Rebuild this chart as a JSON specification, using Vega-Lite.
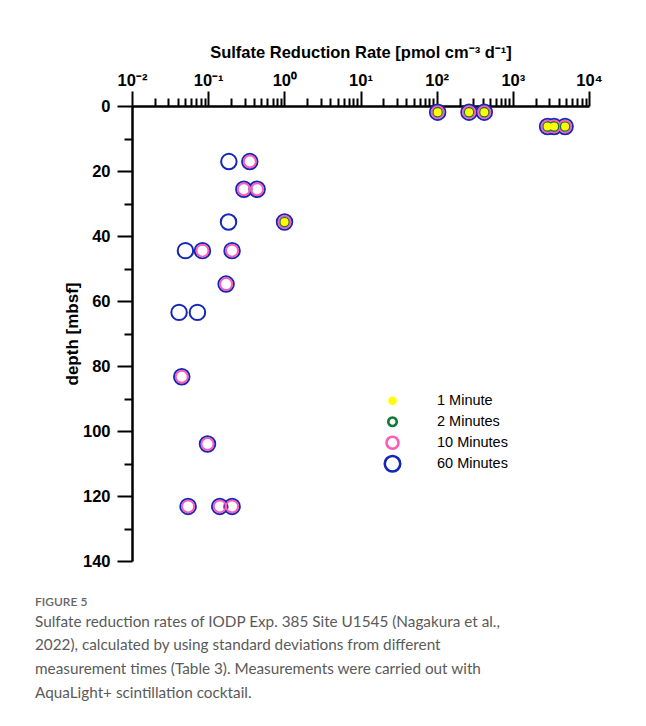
{
  "$schema": "https://vega.github.io/schema/vega-lite/v6.json",
  "width": 457,
  "height": 455,
  "autosize": {"type": "none"},
  "padding": {"left": 132, "top": 106, "right": 57, "bottom": 165},
  "background": "white",
  "config": {"view": {"stroke": null}},
  "title": {
    "text": "FIGURE 5",
    "subtitle": [
      "Sulfate reduction rates of IODP Exp. 385 Site U1545 (Nagakura et al.,",
      "2022), calculated by using standard deviations from different",
      "measurement times (Table 3). Measurements were carried out with",
      "AquaLight+ scintillation cocktail."
    ],
    "orient": "bottom",
    "anchor": "start",
    "frame": "group",
    "dx": -97,
    "offset": 27,
    "font": "Lato",
    "fontSize": 12,
    "fontWeight": 600,
    "color": "#666666",
    "subtitleFont": "Lato",
    "subtitleFontSize": 15.3,
    "subtitleColor": "#5a5a5a",
    "subtitleLineHeight": 23.7,
    "subtitlePadding": 6
  },
  "data": {
    "values": [
      {"time": "60 Minutes", "depth": 1.9, "rate": 103},
      {"time": "60 Minutes", "depth": 1.9, "rate": 266},
      {"time": "60 Minutes", "depth": 1.9, "rate": 422},
      {"time": "60 Minutes", "depth": 6.3, "rate": 2858},
      {"time": "60 Minutes", "depth": 6.3, "rate": 3477},
      {"time": "60 Minutes", "depth": 6.3, "rate": 4853},
      {"time": "60 Minutes", "depth": 17.1, "rate": 0.187},
      {"time": "60 Minutes", "depth": 17.1, "rate": 0.352},
      {"time": "60 Minutes", "depth": 25.6, "rate": 0.294},
      {"time": "60 Minutes", "depth": 25.6, "rate": 0.439},
      {"time": "60 Minutes", "depth": 35.7, "rate": 0.185},
      {"time": "60 Minutes", "depth": 35.7, "rate": 1.006},
      {"time": "60 Minutes", "depth": 44.5, "rate": 0.0503},
      {"time": "60 Minutes", "depth": 44.5, "rate": 0.0841},
      {"time": "60 Minutes", "depth": 44.5, "rate": 0.206},
      {"time": "60 Minutes", "depth": 54.8, "rate": 0.172},
      {"time": "60 Minutes", "depth": 63.5, "rate": 0.0415},
      {"time": "60 Minutes", "depth": 63.5, "rate": 0.0723},
      {"time": "60 Minutes", "depth": 83.3, "rate": 0.045},
      {"time": "60 Minutes", "depth": 104, "rate": 0.098},
      {"time": "60 Minutes", "depth": 123.2, "rate": 0.0545},
      {"time": "60 Minutes", "depth": 123.2, "rate": 0.142},
      {"time": "60 Minutes", "depth": 123.2, "rate": 0.206},
      {"time": "10 Minutes", "depth": 1.9, "rate": 103},
      {"time": "10 Minutes", "depth": 1.9, "rate": 266},
      {"time": "10 Minutes", "depth": 1.9, "rate": 422},
      {"time": "10 Minutes", "depth": 6.3, "rate": 2858},
      {"time": "10 Minutes", "depth": 6.3, "rate": 3477},
      {"time": "10 Minutes", "depth": 6.3, "rate": 4853},
      {"time": "10 Minutes", "depth": 17.1, "rate": 0.352},
      {"time": "10 Minutes", "depth": 25.6, "rate": 0.294},
      {"time": "10 Minutes", "depth": 25.6, "rate": 0.439},
      {"time": "10 Minutes", "depth": 35.7, "rate": 1.006},
      {"time": "10 Minutes", "depth": 44.5, "rate": 0.0841},
      {"time": "10 Minutes", "depth": 44.5, "rate": 0.206},
      {"time": "10 Minutes", "depth": 54.8, "rate": 0.172},
      {"time": "10 Minutes", "depth": 83.3, "rate": 0.045},
      {"time": "10 Minutes", "depth": 104, "rate": 0.098},
      {"time": "10 Minutes", "depth": 123.2, "rate": 0.0545},
      {"time": "10 Minutes", "depth": 123.2, "rate": 0.142},
      {"time": "10 Minutes", "depth": 123.2, "rate": 0.206},
      {"time": "2 Minutes", "depth": 1.9, "rate": 103},
      {"time": "2 Minutes", "depth": 1.9, "rate": 266},
      {"time": "2 Minutes", "depth": 1.9, "rate": 422},
      {"time": "2 Minutes", "depth": 6.3, "rate": 2858},
      {"time": "2 Minutes", "depth": 6.3, "rate": 3477},
      {"time": "2 Minutes", "depth": 6.3, "rate": 4853},
      {"time": "2 Minutes", "depth": 35.7, "rate": 1.006},
      {"time": "1 Minute", "depth": 1.9, "rate": 103},
      {"time": "1 Minute", "depth": 1.9, "rate": 266},
      {"time": "1 Minute", "depth": 1.9, "rate": 422},
      {"time": "1 Minute", "depth": 6.3, "rate": 2858},
      {"time": "1 Minute", "depth": 6.3, "rate": 3477},
      {"time": "1 Minute", "depth": 6.3, "rate": 4853},
      {"time": "1 Minute", "depth": 35.7, "rate": 1.006}
    ]
  },
  "mark": {"type": "point", "shape": "circle", "strokeWidth": 2, "opacity": 1},
  "encoding": {
    "x": {
      "field": "rate",
      "type": "quantitative",
      "scale": {"type": "log", "domain": [0.01, 10000], "nice": false},
      "axis": {
        "orient": "top",
        "title": "Sulfate Reduction Rate [pmol cm⁻³ d⁻¹]",
        "titleFont": "Liberation Sans",
        "titleFontSize": 16.5,
        "titleFontWeight": "bold",
        "titleColor": "black",
        "titlePadding": 12,
        "values": [0.01,0.02,0.03,0.04,0.05,0.06,0.07,0.08,0.09,0.1,0.2,0.3,0.4,0.5,0.6,0.7,0.8,0.9,1,2,3,4,5,6,7,8,9,10,20,30,40,50,60,70,80,90,100,200,300,400,500,600,700,800,900,1000,2000,3000,4000,5000,6000,7000,8000,9000,10000],
        "labelExpr": "datum.value == 0.01 ? '10⁻²' : datum.value == 0.1 ? '10⁻¹' : datum.value == 1 ? '10⁰' : datum.value == 10 ? '10¹' : datum.value == 100 ? '10²' : datum.value == 1000 ? '10³' : datum.value == 10000 ? '10⁴' : ''",
        "labelFont": "Liberation Sans",
        "labelFontSize": 16.5,
        "labelFontWeight": "bold",
        "labelColor": "black",
        "labelOverlap": false,
        "labelFlush": false,
        "labelPadding": 3,
        "labelBound": false,
        "grid": false,
        "domainColor": "black",
        "domainWidth": 2.5,
        "tickColor": "black",
        "tickWidth": 2,
        "tickSize": {"condition": {"test": "indexof([0.01,0.1,1,10,100,1000,10000], datum.value) >= 0", "value": 15}, "value": 8}
      }
    },
    "y": {
      "field": "depth",
      "type": "quantitative",
      "scale": {"domain": [0, 140], "reverse": true, "nice": false},
      "axis": {
        "title": "depth [mbsf]",
        "titleFont": "Liberation Sans",
        "titleFontSize": 17,
        "titleFontWeight": "bold",
        "titleColor": "black",
        "titlePadding": 1,
        "values": [0,10,20,30,40,50,60,70,80,90,100,110,120,130,140],
        "labelExpr": "datum.value % 20 == 0 ? datum.label : ''",
        "labelFont": "Liberation Sans",
        "labelFontSize": 16.5,
        "labelFontWeight": "bold",
        "labelColor": "black",
        "labelOverlap": false,
        "labelFlush": false,
        "labelPadding": 7,
        "grid": false,
        "domainColor": "black",
        "domainWidth": 2.5,
        "tickColor": "black",
        "tickWidth": 2,
        "tickSize": {"condition": {"test": "datum.value % 20 == 0", "value": 15}, "value": 8}
      }
    },
    "stroke": {
      "field": "time",
      "type": "nominal",
      "scale": {
        "domain": ["1 Minute", "2 Minutes", "10 Minutes", "60 Minutes"],
        "range": ["#ffff00", "#0f7a36", "#ff5cb8", "#1428b4"]
      },
      "legend": {
        "title": null,
        "orient": "none",
        "legendX": 251,
        "legendY": 284.5,
        "padding": 0,
        "labelFont": "Liberation Sans",
        "labelFontSize": 14.5,
        "labelColor": "black",
        "labelOffset": 35,
        "rowPadding": 0,
        "clipHeight": 20.5,
        "symbolStrokeWidth": 2.6,
        "encode": {
          "symbols": {
            "update": {
              "size": {"signal": "datum.value === '1 Minute' ? 70 : datum.value === '2 Minutes' ? 117 : datum.value === '10 Minutes' ? 200 : 324"}
            }
          }
        }
      }
    },
    "fill": {
      "field": "time",
      "type": "nominal",
      "scale": {
        "domain": ["1 Minute", "2 Minutes", "10 Minutes", "60 Minutes"],
        "range": ["#ffff00", "transparent", "transparent", "transparent"]
      },
      "legend": {
        "title": null,
        "orient": "none",
        "legendX": 251,
        "legendY": 284.5,
        "padding": 0,
        "labelFont": "Liberation Sans",
        "labelFontSize": 14.5,
        "labelColor": "black",
        "labelOffset": 35,
        "rowPadding": 0,
        "clipHeight": 20.5,
        "symbolStrokeWidth": 2.6,
        "encode": {
          "symbols": {
            "update": {
              "size": {"signal": "datum.value === '1 Minute' ? 70 : datum.value === '2 Minutes' ? 117 : datum.value === '10 Minutes' ? 200 : 324"}
            }
          }
        }
      }
    },
    "size": {
      "field": "time",
      "type": "nominal",
      "scale": {
        "type": "ordinal",
        "domain": ["1 Minute", "2 Minutes", "10 Minutes", "60 Minutes"],
        "range": [36, 72, 144, 240]
      },
      "legend": {
        "title": null,
        "orient": "none",
        "legendX": 251,
        "legendY": 284.5,
        "padding": 0,
        "labelFont": "Liberation Sans",
        "labelFontSize": 14.5,
        "labelColor": "black",
        "labelOffset": 35,
        "rowPadding": 0,
        "clipHeight": 20.5,
        "symbolStrokeWidth": 2.6,
        "encode": {
          "symbols": {
            "update": {
              "size": {"signal": "datum.value === '1 Minute' ? 70 : datum.value === '2 Minutes' ? 117 : datum.value === '10 Minutes' ? 200 : 324"}
            }
          }
        }
      }
    }
  }
}
